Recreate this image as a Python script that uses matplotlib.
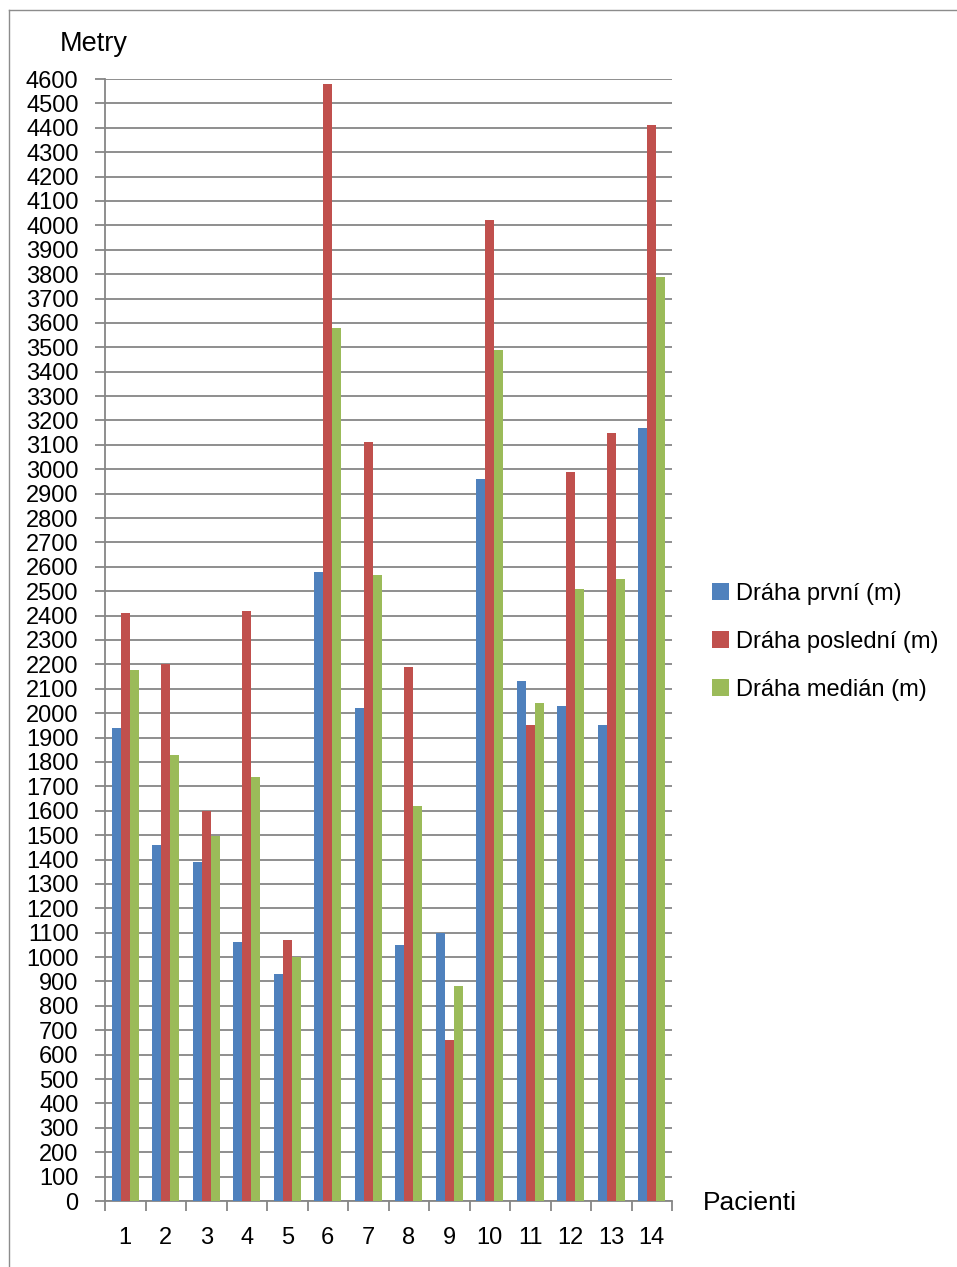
import numpy as np
import matplotlib.pyplot as plt
from matplotlib.lines import Line2D

# Dráha pacientů v metrech
pacienti = ["1", "2", "3", "4", "5", "6", "7", "8", "9", "10", "11", "12", "13", "14"]
draha_prvni = [1940, 1460, 1390, 1060, 930, 2580, 2020, 1050, 1100, 2960, 2130, 2030, 1950, 3170]
draha_posledni = [2410, 2200, 1600, 2420, 1070, 4580, 3110, 2190, 660, 4020, 1950, 2990, 3150, 4410]
draha_median = [2175, 1830, 1495, 1740, 1000, 3580, 2565, 1620, 880, 3490, 2040, 2510, 2550, 3790]
serie_nazvy = ["Dráha první (m)", "Dráha poslední (m)", "Dráha medián (m)"]
y_ticks = list(range(0, 4601, 100))

barvy = ["#4F81BD", "#C0504D", "#9BBB59"]
seda = "#868686"

plt.rcParams['font.family'] = ['Liberation Sans', 'DejaVu Sans']

W, H = 957, 1267
fig = plt.figure(figsize=(W / 100, H / 100), dpi=100)

# rámeček grafu
fig.add_artist(Line2D([9 / W, 9 / W], [0, 1 - 10 / H], color="#8c8c8c", lw=1.0))
fig.add_artist(Line2D([9 / W, 1], [1 - 10 / H, 1 - 10 / H], color="#8c8c8c", lw=1.0))

x0, x1, y_top, y_bot = 105, 672, 79, 1201
ax = fig.add_axes([x0 / W, 1 - y_bot / H, (x1 - x0) / W, (y_bot - y_top) / H])

x = np.arange(1, len(pacienti) + 1)
sirka = 1 / 4.5
for i, (hodnoty, barva, nazev) in enumerate(zip([draha_prvni, draha_posledni, draha_median], barvy, serie_nazvy)):
    ax.bar(x + (i - 1) * sirka, hodnoty, width=sirka, color=barva, label=nazev,
           edgecolor="none", zorder=3)

ax.set_xlim(0.5, len(pacienti) + 0.5)
ax.set_ylim(0, 4600)
ax.set_yticks(y_ticks)
ax.set_yticklabels([str(v) for v in y_ticks], fontsize=17)
ax.yaxis.grid(True, color=seda, lw=1.3, zorder=0)
ax.set_axisbelow(True)

# kategorie: značky mezi skupinami, popisky uprostřed
ax.set_xticks(np.arange(0.5, len(pacienti) + 1, 1))
ax.set_xticklabels([])
ax.set_xticks(x, minor=True)
ax.set_xticklabels(pacienti, minor=True, fontsize=17)
ax.tick_params(axis="x", which="major", length=7, width=1.3, color=seda, direction="out")
ax.tick_params(axis="x", which="minor", length=0, pad=19)
ax.tick_params(axis="y", length=7, width=1.3, color=seda, pad=12)

for s in ["top", "right"]:
    ax.spines[s].set_visible(False)
for s in ["left", "bottom"]:
    ax.spines[s].set_color(seda)
    ax.spines[s].set_linewidth(1.3)

fig.text(60 / W, 1 - 44 / H, "Metry", fontsize=19.5, va="center", ha="left")
fig.text(703 / W, 1 - 1203 / H, "Pacienti", fontsize=19, va="center", ha="left")

ax.legend(loc="center left", bbox_to_anchor=(691 / W, 1 - 642 / H), bbox_transform=fig.transFigure,
          frameon=False, fontsize=17, handlelength=0.7, handleheight=0.7,
          handletextpad=0.3, labelspacing=1.1)

fig.savefig("out.png", dpi=100)
